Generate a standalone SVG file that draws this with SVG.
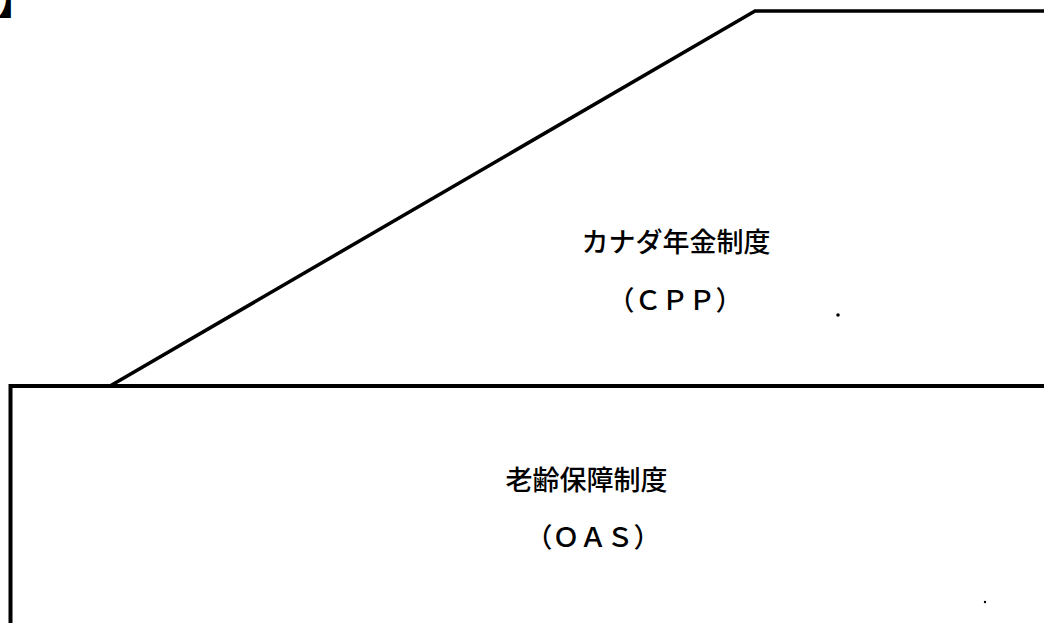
<svg xmlns="http://www.w3.org/2000/svg" width="1044" height="623" viewBox="0 0 1044 623">
<style>
.ln{fill:none;stroke:#000;stroke-linejoin:miter;stroke-linecap:butt}
.lbl{font-family:"Noto Sans CJK JP","Noto Sans",sans-serif;font-size:27px;font-weight:500;fill:#000}
</style>
<rect width="1044" height="623" fill="#fff"/>
<text class="lbl" x="-4" y="14" style="font-size:44px">】</text>
<g id="connectors">
<path class="ln" stroke-width="3.5" d="M110 386 L755 11 H1044"/>
<path class="ln" stroke-width="4" d="M10.5 623 V386 H1044"/>
</g>
<g id="cpp">
<text class="lbl" x="676" y="252" text-anchor="middle">カナダ年金制度</text>
<text class="lbl" x="675" y="310" text-anchor="middle">（ＣＰＰ）</text>
</g>
<g id="oas">
<text class="lbl" x="586.5" y="490" text-anchor="middle">老齢保障制度</text>
<text class="lbl" x="593" y="547" text-anchor="middle">（ＯＡＳ）</text>
</g>
<circle cx="838" cy="315" r="1.8" fill="#000"/>
<circle cx="985" cy="602" r="1.2" fill="#000"/>
</svg>
